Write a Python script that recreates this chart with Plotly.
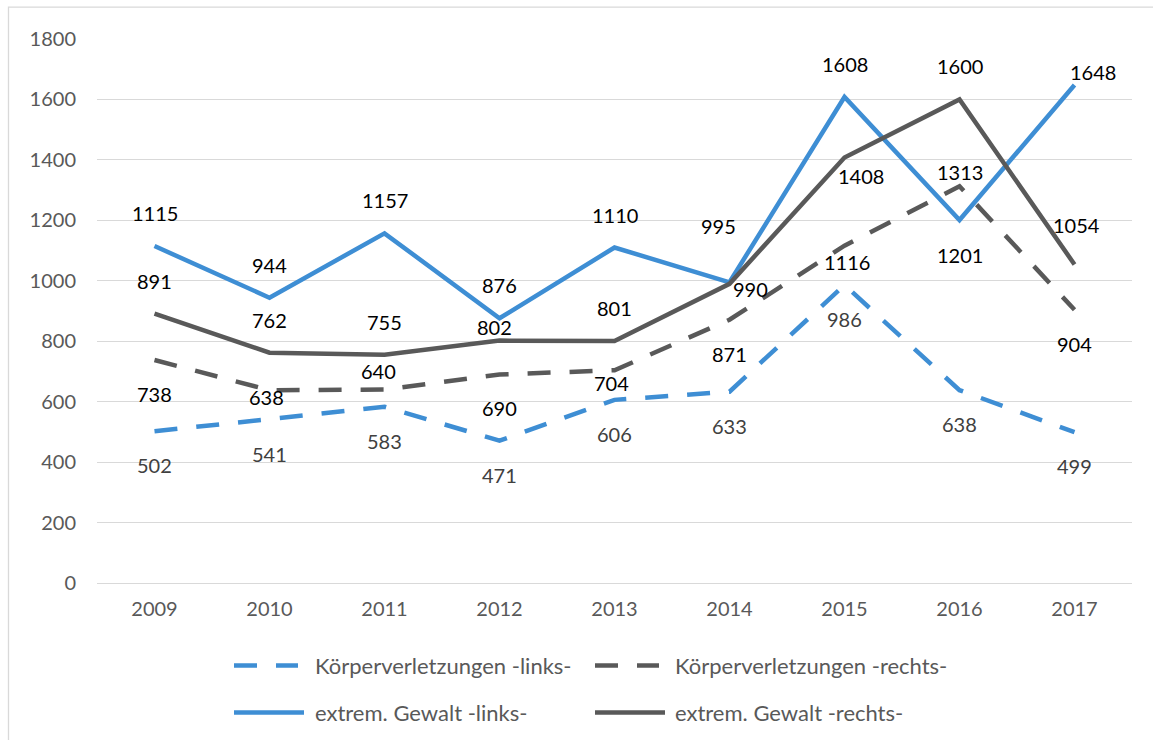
import plotly.graph_objects as go

years = ["2009", "2010", "2011", "2012", "2013", "2014", "2015", "2016", "2017"]
kv_links = [502, 541, 583, 471, 606, 633, 986, 638, 499]
kv_rechts = [738, 638, 640, 690, 704, 871, 1116, 1313, 904]
eg_links = [1115, 944, 1157, 876, 1110, 995, 1608, 1201, 1648]
eg_rechts = [891, 762, 755, 802, 801, 990, 1408, 1600, 1054]
names = ["Körperverletzungen -links-", "Körperverletzungen -rechts-",
         "extrem. Gewalt -links-", "extrem. Gewalt -rechts-"]

BLUE = "#3E8ED4"
GRAY = "#595959"
FONT = "Lato"

# label offsets in px (dx, dy with dy positive = downward on screen)
A = (0, -33)
B = (0, 34)
off_kv_links = [B] * 9
off_kv_rechts = [B, (-3, 7), (-6, -19), B, (-3, 13), B, (2, 16), (0, -14), B]
off_eg_links = [A, A, A, A, A, (-11, -56), A, (0, 35), (18, -13)]
off_eg_rechts = [A, A, A, (-5, -14), A, (21, 5), (16, 19), A, (2, -39)]

series = [
    (kv_links, BLUE, "23px,19px", off_kv_links, "#404040"),
    (kv_rechts, GRAY, "23px,19px", off_kv_rechts, "#000000"),
    (eg_links, BLUE, "solid", off_eg_links, "#000000"),
    (eg_rechts, GRAY, "solid", off_eg_rechts, "#000000"),
]

fig = go.Figure()
annotations = []
for (vals, col, dash, offs, tcol), nm in zip(series, names):
    fig.add_trace(go.Scatter(x=years, y=vals, mode="lines", name=nm,
                             line=dict(color=col, width=4.5, dash=dash),
                             showlegend=False, hoverinfo="skip"))
    for i, (v, (dx, dy)) in enumerate(zip(vals, offs)):
        annotations.append(dict(x=i, y=v, text=str(v), showarrow=False,
                                xshift=dx, yshift=-dy, xanchor="center", yanchor="middle",
                                font=dict(family=FONT, size=20, color=tcol)))

# custom legend (paper coords relative to plot area: left=97, width=1035; bottom=582.7, height=543.4)
L, W, BOT, H = 97.0, 1035.0, 582.7, 543.4
def px(x):
    return (x - L) / W
def py(y):
    return (BOT - y) / H

shapes = []
legend_items = [
    (names[0], BLUE, "23px,19px", 234, 298, 313, 665),
    (names[1], GRAY, "23px,19px", 595, 659, 673, 665),
    (names[2], BLUE, "solid", 234, 304, 313, 712),
    (names[3], GRAY, "solid", 595, 665, 673, 712),
]
for nm, col, dash, x0, x1, tx, ty in legend_items:
    shapes.append(dict(type="line", xref="paper", yref="paper",
                       x0=px(x0), x1=px(x1), y0=py(ty), y1=py(ty),
                       line=dict(color=col, width=4.5, dash=dash)))
    annotations.append(dict(xref="paper", yref="paper", x=px(tx), y=py(ty), text=nm,
                            showarrow=False, xanchor="left", yanchor="middle",
                            font=dict(family=FONT, size=22, color=GRAY)))

# outer chart border
shapes.append(dict(type="rect", xref="paper", yref="paper",
                   x0=px(8.5), x1=px(1190), y0=py(7.5), y1=py(800),
                   line=dict(color="#D9D9D9", width=1.3), layer="below"))

fig.update_layout(
    width=1153, height=740,
    margin=dict(l=97, r=1153 - 1132, t=39.3, b=740 - 582.7, pad=0),
    paper_bgcolor="white", plot_bgcolor="white",
    showlegend=False,
    font=dict(family=FONT, size=20, color=GRAY),
    xaxis=dict(type="category", range=[-0.5, 8.5], showgrid=False, showline=False,
               zeroline=False, ticks="", ticklabelstandoff=12,
               tickfont=dict(family=FONT, size=20, color=GRAY)),
    yaxis=dict(range=[0, 1800], dtick=200, showgrid=True, gridcolor="#D9D9D9", gridwidth=1.3,
               zeroline=True, zerolinecolor="#D9D9D9", zerolinewidth=1.3,
               showline=False, ticks="", ticklabelstandoff=20,
               tickfont=dict(family=FONT, size=20, color=GRAY)),
    annotations=annotations,
    shapes=shapes,
)

fig.write_html("out.html", config={"displayModeBar": False},
               post_script="document.body.style.margin='0';document.body.style.overflow='hidden';")
